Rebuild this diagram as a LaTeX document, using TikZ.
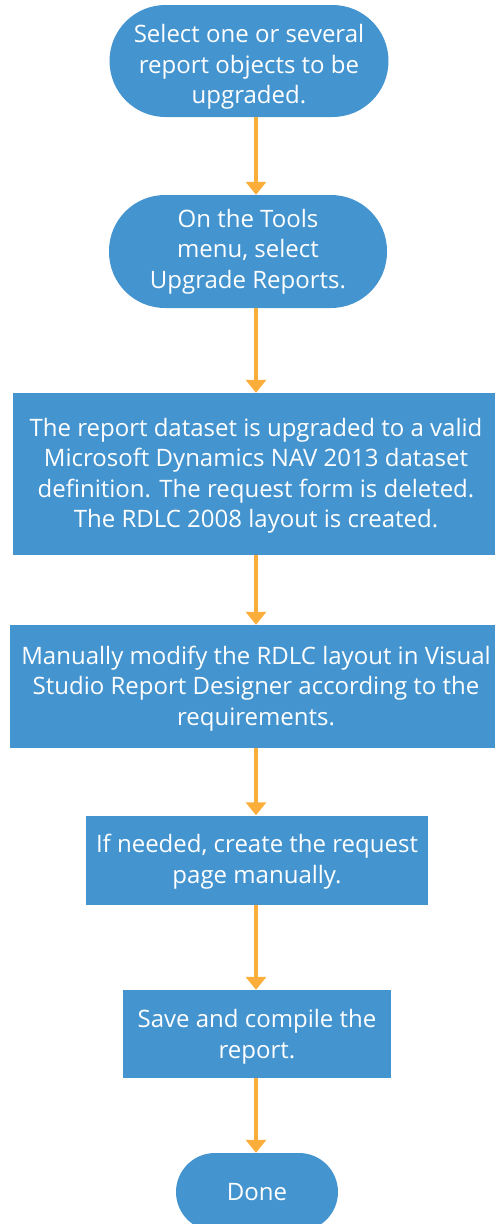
\documentclass[tikz,border=0pt]{standalone}
\usepackage{fontspec}
\setmainfont{Open Sans}
\usetikzlibrary{arrows.meta}
\definecolor{boxblue}{HTML}{4494D0}
\definecolor{arroworange}{HTML}{FBAF3A}
\begin{document}
\begin{tikzpicture}[x=1pt,y=-1pt,
  box/.style={fill=boxblue, draw=none, text=white, align=center, inner sep=0pt,
    font=\fontsize{24}{30.5}\selectfont},
  pill/.style={box, rounded corners=#1},
  flow/.style={draw=arroworange, line width=4pt, -{Triangle[width=20pt,length=13pt]}}]
\useasboundingbox (0,0) rectangle (495,1224);
\coordinate (axis) at (256,0);
\node[pill=56pt, minimum width=279pt, minimum height=112pt] (n1) at (249,61)
  {\rule{0pt}{30pt}Select one or several\\report objects to be\\upgraded.};
\node[pill=56pt, minimum width=278pt, minimum height=113pt] (n2) at (248,251.5)
  {On the Tools\\menu, select\\Upgrade Reports.};
\node[box, minimum width=486pt, minimum height=162pt] (n3) at (256,474)
  {\rule{0pt}{22pt}The report dataset is upgraded to a valid\\Microsoft Dynamics NAV 2013 dataset\\definition. The request form is deleted.\\The RDLC 2008 layout is created.};
\node[box, minimum width=492pt, minimum height=123pt] (n4) at (256,686.5)
  {\rule{0pt}{22pt}Manually modify the RDLC layout in Visual\\Studio Report Designer according to the\\requirements.};
\node[box, minimum width=342pt, minimum height=89pt] (n5) at (257,860)
  {\rule{0pt}{22pt}If needed, create the request\\page manually.};
\node[box, minimum width=268pt, minimum height=88pt] (n6) at (257,1034)
  {\rule{0pt}{24pt}Save and compile the\\report.};
\node[pill=39pt, minimum width=162pt, minimum height=78pt] (n7) at (257,1192)
  {Done};
\draw[flow] (n1.south -| axis) -- (n2.north -| axis);
\draw[flow] (n2.south -| axis) -- (n3.north -| axis);
\draw[flow] (n3.south -| axis) -- (n4.north -| axis);
\draw[flow] (n4.south -| axis) -- (n5.north -| axis);
\draw[flow] (n5.south -| axis) -- (n6.north -| axis);
\draw[flow] (n6.south -| axis) -- (n7.north -| axis);
\end{tikzpicture}
\end{document}
